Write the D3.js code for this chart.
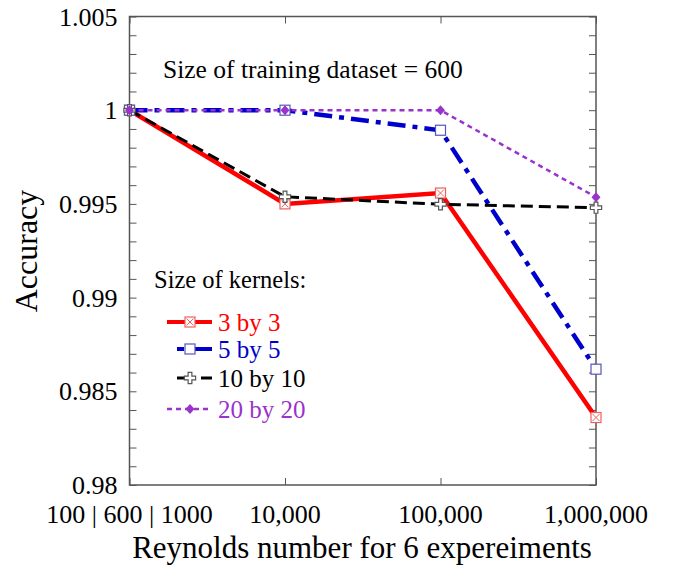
<!DOCTYPE html>
<html>
<head>
<meta charset="utf-8">
<script src="https://cdn.jsdelivr.net/npm/d3@7"></script>
<style>
  body { margin: 0; background: #fff; }
  svg text { font-family: "Liberation Serif", "Times New Roman", serif; }
</style>
</head>
<body>
<div id="chart"></div>
<script>
// categories on x (equally spaced)
const categories = ["100 | 600 | 1000", "10,000", "100,000", "1,000,000"];
const seriesNames = ["3 by 3", "5 by 5", "10 by 10", "20 by 20"];
const acc3 = [1.0, 0.9950, 0.99558, 0.98360];
const acc5 = [1.0, 1.0, 0.99893, 0.98618];
const acc10 = [1.0, 0.99538, 0.99498, 0.99480];
const acc20 = [1.0, 1.0, 1.0, 0.99536];
const yTicks = [0.98, 0.985, 0.99, 0.995, 1, 1.005];

const width = 686, height = 570;
const margin = { top: 16.5, right: 90, bottom: 85, left: 129.5 };
const innerW = width - margin.left - margin.right;
const innerH = height - margin.top - margin.bottom;

const svg = d3.select("#chart").append("svg")
    .attr("width", width)
    .attr("height", height);

const chart = svg.append("g")
    .attr("transform", `translate(${margin.left},${margin.top})`);

const x = d3.scalePoint().domain(categories).range([0, innerW]);
const y = d3.scaleLinear().domain([0.98, 1.005]).range([innerH, 0]);

// minor ticks every 0.001
const minor = d3.range(0, 26).map(i => 0.98 + i * 0.001);
const frameColor = "#555";

chart.append("g")
    .call(d3.axisLeft(y).tickValues(minor).tickSize(-7).tickFormat(""))
    .call(g => g.select(".domain").remove())
    .selectAll("line").attr("stroke", frameColor).attr("stroke-width", 1);

chart.append("g")
    .attr("transform", `translate(${innerW},0)`)
    .call(d3.axisRight(y).tickValues(minor).tickSize(-7).tickFormat(""))
    .call(g => g.select(".domain").remove())
    .selectAll("line").attr("stroke", frameColor).attr("stroke-width", 1);

chart.append("g")
    .attr("transform", `translate(0,${innerH})`)
    .call(d3.axisBottom(x).tickSize(-7).tickFormat(""))
    .call(g => g.select(".domain").remove())
    .selectAll("line").attr("stroke", frameColor).attr("stroke-width", 1);

chart.append("g")
    .call(d3.axisTop(x).tickSize(-7).tickFormat(""))
    .call(g => g.select(".domain").remove())
    .selectAll("line").attr("stroke", frameColor).attr("stroke-width", 1);

// frame
chart.append("rect")
    .attr("width", innerW).attr("height", innerH)
    .attr("fill", "none").attr("stroke", frameColor).attr("stroke-width", 1.5);

// tick labels
chart.selectAll(".ylab")
    .data(yTicks)
    .enter().append("text")
    .attr("class", "ylab")
    .attr("x", -12)
    .attr("y", d => y(d))
    .attr("dy", "0.35em")
    .attr("text-anchor", "end")
    .style("font-size", "26px")
    .text(d => d3.format("")(d));

chart.selectAll(".xlab")
    .data(categories)
    .enter().append("text")
    .attr("class", "xlab")
    .attr("x", d => x(d))
    .attr("y", innerH + 38)
    .attr("text-anchor", "middle")
    .style("font-size", "26px")
    .text(d => d);

// axis titles
svg.append("text")
    .attr("transform", "translate(37,251) rotate(-90)")
    .attr("text-anchor", "middle")
    .style("font-size", "32px")
    .text("Accuracy");

svg.append("text")
    .attr("x", 362)
    .attr("y", 558)
    .attr("text-anchor", "middle")
    .style("font-size", "31px")
    .text("Reynolds number for 6 expereiments");

// annotation
svg.append("text")
    .attr("x", 163)
    .attr("y", 78)
    .style("font-size", "25.5px")
    .text("Size of training dataset = 600");

// series
const series = [
    { name: seriesNames[0], values: acc3, color: "#ff0000", width: 4.5, dash: null, marker: "xsquare", mcolor: "#ee6060", text: "#ff0000" },
    { name: seriesNames[1], values: acc5, color: "#0000cc", width: 4.5, dash: "18,7,5,7", marker: "square", mcolor: "#5555bb", text: "#0000cc" },
    { name: seriesNames[2], values: acc10, color: "#000000", width: 3, dash: "12,6", marker: "plus", mcolor: "#555555", text: "#000000" },
    { name: seriesNames[3], values: acc20, color: "#9933cc", width: 2.5, dash: "5,4", marker: "diamond", mcolor: "#9933cc", text: "#9933cc" }
];

const line = d3.line()
    .x((d, i) => x(categories[i]))
    .y(d => y(d));

function drawMarker(g, type, color) {
    if (type === "xsquare") {
        g.append("rect").attr("x", -5).attr("y", -5).attr("width", 10).attr("height", 10)
            .attr("fill", "#fff").attr("stroke", color).attr("stroke-width", 1.2);
        g.append("path").attr("d", "M-3.5,-3.5L3.5,3.5M-3.5,3.5L3.5,-3.5")
            .attr("stroke", color).attr("stroke-width", 1);
    } else if (type === "square") {
        g.append("rect").attr("x", -5).attr("y", -5).attr("width", 10).attr("height", 10)
            .attr("fill", "#fff").attr("stroke", color).attr("stroke-width", 1.2);
    } else if (type === "plus") {
        g.append("path").attr("d", d3.symbol(d3.symbolCross, 70)())
            .attr("fill", "#fff").attr("stroke", color).attr("stroke-width", 1.2);
    } else if (type === "diamond") {
        g.append("path").attr("d", "M0,-5L4.5,0L0,5L-4.5,0Z")
            .attr("fill", color).attr("stroke", "none");
    }
}

series.forEach(s => {
    chart.append("path")
        .datum(s.values)
        .attr("d", line)
        .attr("fill", "none")
        .attr("stroke", s.color)
        .attr("stroke-width", s.width)
        .attr("stroke-dasharray", s.dash);
});

series.forEach(s => {
    s.values.forEach((v, i) => {
        const g = chart.append("g").attr("transform", `translate(${x(categories[i])},${y(v)})`);
        drawMarker(g, s.marker, s.mcolor);
    });
});

// legend
svg.append("text")
    .attr("x", 154)
    .attr("y", 288)
    .style("font-size", "24.5px")
    .text("Size of kernels:");

const legendY = [322, 349, 378, 409];
const legendDash = [null, "7,6,30", "10,14,20", "5,4"];
const legend = svg.selectAll(".legend-item")
    .data(series)
    .enter().append("g")
    .attr("class", "legend-item")
    .attr("transform", (d, i) => `translate(0,${legendY[i]})`);

legend.append("line")
    .attr("x1", (d, i) => (i === 1 || i === 2) ? 177 : 167)
    .attr("x2", 212)
    .attr("stroke", d => d.color)
    .attr("stroke-width", (d, i) => i === 2 ? 3 : (i === 3 ? 2.5 : 4))
    .attr("stroke-dasharray", (d, i) => legendDash[i]);

legend.each(function (d) {
    const g = d3.select(this).append("g").attr("transform", "translate(190,0)");
    drawMarker(g, d.marker, d.mcolor);
});

legend.append("text")
    .attr("x", 218)
    .attr("dy", "0.35em")
    .style("font-size", "25px")
    .attr("fill", d => d.text)
    .text(d => d.name);
</script>
</body>
</html>
